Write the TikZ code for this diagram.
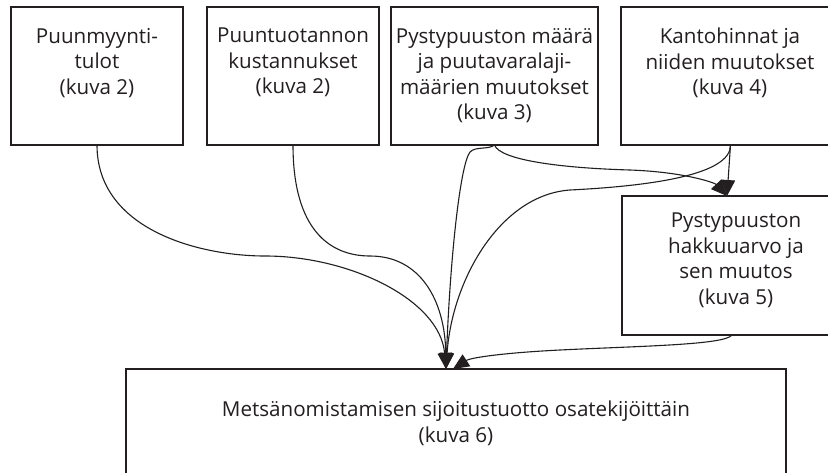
\documentclass[tikz,border=0pt]{standalone}
\usepackage{fontspec}
\setmainfont{Open Sans}
\usetikzlibrary{arrows.meta,calc}
\definecolor{ink}{HTML}{231F20}
\tikzset{
  box/.style={draw=ink, line width=1.3pt, rectangle, inner sep=0pt, outer sep=0pt},
  lbl/.style={anchor=north, inner sep=0pt, align=center, text=ink, font=\fontsize{20.6}{25.5}\selectfont},
  conn/.style={draw=ink, line width=1.1pt, -{Triangle[length=16pt,width=14pt]}},
}
\begin{document}
\begin{tikzpicture}[x=1pt,y=-1pt]
\useasboundingbox (0,0) rectangle (828,472);
\clip (0,0) rectangle (828,472);
\fill[white] (0,0) rectangle (828,472);
% boxes
\node[box, minimum width=172pt, minimum height=138pt] (b1) at (97,76) {};
\node[box, minimum width=172pt, minimum height=138pt] (b2) at (293,76) {};
\node[box, minimum width=207pt, minimum height=138pt] (b3) at (494.5,76) {};
\node[box, minimum width=219pt, minimum height=138pt] (b4) at (730.5,76) {};
\node[box, minimum width=228pt, minimum height=139pt] (b5) at (736,265.5) {};
\node[box, minimum width=660pt, minimum height=151pt] (bot) at (456,444.5) {};
% labels
\node[lbl] (t1) at (97,28) {Puunmyynti-\\tulot\\(kuva 2)};
\node[lbl] (t2) at (293,28) {Puuntuotannon\\kustannukset\\(kuva 2)};
\node[lbl] (t3) at (494.5,28) {Pystypuuston määrä\\ja puutavaralaji-\\määrien muutokset\\(kuva 3)};
\node[lbl] (t4) at (730,28) {Kantohinnat ja\\niiden muutokset\\(kuva 4)};
\node[lbl] (t5) at (736,213) {Pystypuuston\\hakkuuarvo ja\\sen muutos\\(kuva 5)};
\node[lbl] (t6) at (456,401) {Metsänomistamisen sijoitustuotto osatekijöittäin\\(kuva 6)};
% connector end points
\coordinate (tgt) at ([xshift=-10pt]bot.north);
\coordinate (tgtb) at ([xshift=-3pt]bot.north);
\coordinate (b5in) at ([xshift=-9pt]b5.north);
\coordinate (b5out) at ([xshift=-4pt]b5.south);
% connectors
\draw[conn] (b1.south) .. controls (97,230) and (200,256) .. (265,256) .. controls (350,256) and (440,300) .. (tgt);
\draw[conn] (b2.south) .. controls (293,230) and (330,256) .. (370,256) .. controls (420,256) and (445,300) .. (tgt);
\draw[conn] (b3.south) .. controls (488,150) and (476,146) .. (470,152) .. controls (460,165) and (450,260) .. (tgt);
\draw[conn] (b4.south) .. controls (731,175) and (650,186) .. (570,190) .. controls (500,195) and (452,280) .. (tgt);
\draw[conn] (b3.south) .. controls (500,160) and (560,168) .. (630,170) .. controls (685,172) and (715,183) .. (b5in);
\draw[conn] (b4.south) -- (b5in);
\draw[conn] (b5out) .. controls (725,345) and (640,346) .. (560,350) .. controls (500,353) and (470,358) .. (tgtb);
\end{tikzpicture}
\end{document}
